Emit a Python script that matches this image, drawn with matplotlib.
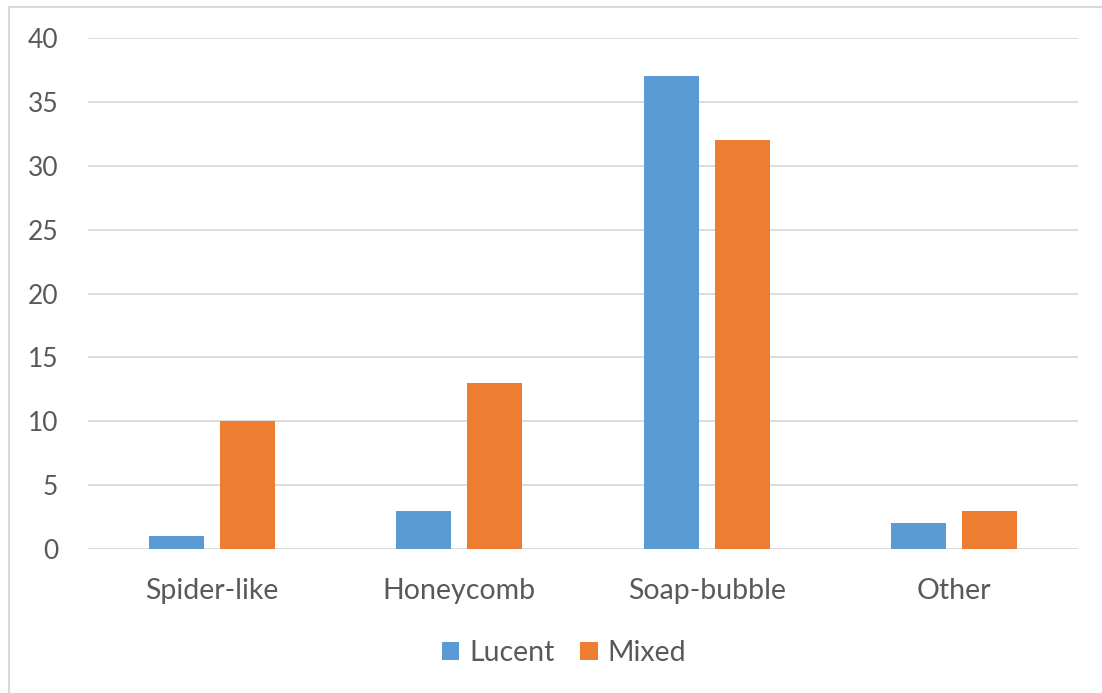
import matplotlib
matplotlib.use("Agg")
import matplotlib.pyplot as plt
from matplotlib.lines import Line2D
import numpy as np

categories = ["Spider-like", "Honeycomb", "Soap-bubble", "Other"]
lucent = [1, 3, 37, 2]
mixed = [10, 13, 32, 3]
yticks = [0, 5, 10, 15, 20, 25, 30, 35, 40]

blue = "#5B9BD5"
orange = "#ED7D31"
text_color = "#595959"
grid_color = "#D9D9D9"

plt.rcParams["font.family"] = ["Lato", "DejaVu Sans"]

W, H = 1102, 693
fig = plt.figure(figsize=(W / 100, H / 100), dpi=100)
ax = fig.add_axes([88 / W, 1 - 549 / H, (1078 - 88) / W, (549 - 38) / H])

x = np.arange(len(categories))
bw = 0.222
off = 0.143
ax.bar(x - off, lucent, bw, color=blue, label="Lucent", zorder=3)
ax.bar(x + off, mixed, bw, color=orange, label="Mixed", zorder=3)

ax.set_xlim(-0.5, len(categories) - 0.5)
ax.set_ylim(0, 40)
ax.set_yticks(yticks)
ax.set_yticklabels([str(v) for v in yticks])
ax.set_xticks(x)
ax.set_xticklabels(categories)
ax.grid(axis="y", color=grid_color, linewidth=1.3, zorder=0)
for s in ax.spines.values():
    s.set_visible(False)
ax.tick_params(axis="both", length=0, colors=text_color)
ax.tick_params(axis="y", pad=21.5, labelsize=19)
ax.tick_params(axis="x", pad=21, labelsize=20.5)

leg = fig.legend(loc="center", bbox_to_anchor=(564 / W, 1 - 653 / H), ncol=2,
                 frameon=False, fontsize=20.5, handlelength=0.62, handleheight=0.62,
                 handletextpad=0.35, columnspacing=0.9)
for t in leg.get_texts():
    t.set_color(text_color)

# chart frame: left and top edges
fx = 8.5 / W
fy = 1 - 6.5 / H
fig.add_artist(Line2D([fx, fx], [0, fy], transform=fig.transFigure,
                      color=grid_color, linewidth=1.5))
fig.add_artist(Line2D([fx, 1], [fy, fy], transform=fig.transFigure,
                      color=grid_color, linewidth=1.5))

fig.savefig("out.png", dpi=100)
